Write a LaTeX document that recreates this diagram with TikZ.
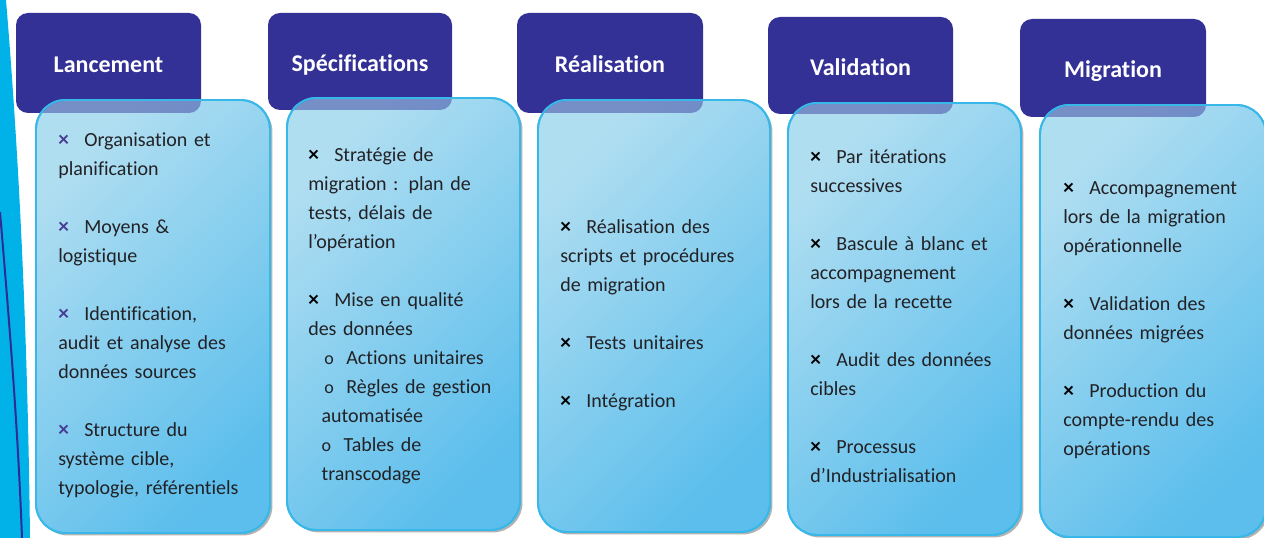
\documentclass[tikz,border=0pt]{standalone}
\usepackage{fontspec}
\setmainfont{Carlito}[Ligatures=NoCommon]
\usetikzlibrary{shadows}
\definecolor{navy}{RGB}{51,48,150}
\definecolor{bodyA}{RGB}{176,222,241}
\definecolor{bodyB}{RGB}{92,190,236}
\definecolor{bordc}{RGB}{56,184,232}
\definecolor{txtc}{RGB}{34,34,38}
\definecolor{bandc}{RGB}{0,178,232}
\definecolor{linec}{RGB}{48,44,150}
\definecolor{bulnavy}{RGB}{72,60,150}
\newcommand\bxa{\makebox[19.5pt][l]{\textcolor{bulnavy}{\raisebox{0pt}{\bfseries\fontsize{16}{12}\selectfont ×}}}}
\newcommand\bxb{\makebox[19.5pt][l]{\textcolor{black}{\raisebox{0pt}{\bfseries\fontsize{16}{12}\selectfont ×}}}}
\newcommand\subo{\makebox[16.5pt][l]{{\fontsize{13.5}{13}\selectfont o}}}
\begin{document}
\begin{tikzpicture}[x=0.75pt,y=-0.75pt,
  hdr/.style={fill=navy, rounded corners=9pt, text=white,
    font=\bfseries\fontsize{18}{20}\selectfont, inner sep=0pt, outer sep=0pt,
    text height=15pt, text depth=0pt},
  bdy/.style={draw=bordc, line width=1.4pt, rounded corners=22pt,
    top color=bodyA, bottom color=bodyB, shading angle=45,
    inner sep=0pt, outer sep=0pt,
    drop shadow={shadow xshift=1.8pt, shadow yshift=-1.8pt, fill=black, opacity=0.3}},
  txtb/.style={anchor=base west, inner sep=0pt, text width=175pt, align=left,
    text=txtc, font=\fontsize{15}{21.75}\selectfont}
]
\useasboundingbox (0,0) rectangle (1264,538);
% left band
\fill[bandc] (0,0) -- (6,0) .. controls (21,180) and (28,360) .. (30,538) -- (0,538) -- cycle;
\draw[linec, line width=1.5pt] (0,212) .. controls (10,330) and (18,430) .. (22,538);

% headers
\node[hdr, minimum width={185*0.75pt}, minimum height={100*0.75pt}] (h1) at (108.5,63) {Lancement};
\node[hdr, minimum width={184*0.75pt}, minimum height={97*0.75pt}] (h2) at (360,61.5) {Spécifications};
\node[hdr, minimum width={186*0.75pt}, minimum height={100*0.75pt}] (h3) at (610,63) {Réalisation};
\node[hdr, minimum width={185*0.75pt}, minimum height={97*0.75pt}] (h4) at (860.5,65.5) {Validation};
\node[hdr, minimum width={186*0.75pt}, minimum height={98*0.75pt}] (h5) at (1113,68) {Migration};

% bodies
\node[bdy, minimum width={234*0.75pt}, minimum height={433*0.75pt}] (b1) at (153,316.5) {};
\node[bdy, minimum width={233*0.75pt}, minimum height={432*0.75pt}] (b2) at (403.5,314) {};
\node[bdy, minimum width={232*0.75pt}, minimum height={432*0.75pt}] (b3) at (654,316) {};
\node[bdy, minimum width={233*0.75pt}, minimum height={432*0.75pt}] (b4) at (904.5,319) {};
\node[bdy, minimum width={226*0.75pt}, minimum height={432*0.75pt}] (b5) at (1153,321) {};

% header seen through the top of each body
\foreach \i in {1,...,5}{
  \begin{scope}
    \clip[rounded corners=22pt] (b\i.north west) rectangle (b\i.south east);
    \fill[navy, opacity=0.45, rounded corners=9pt] (h\i.north west) rectangle (h\i.south east);
  \end{scope}
  \draw[bordc, line width=1.4pt, rounded corners=22pt] (b\i.north west) rectangle (b\i.south east);
}

% texts
\node[txtb] (t1) at (58,147) {\bxa Organisation et\\ planification\\[21.75pt]
\bxa Moyens \&\\ logistique\\[21.75pt]
\bxa Identification,\\ audit et analyse des\\ données sources\\[21.75pt]
\bxa Structure du\\ système cible,\\ typologie, référentiels};

\node[txtb] (t2) at (308,162) {\bxb Stratégie de\\ migration : plan de\\ tests, délais de\\ l’opération\\[21.75pt]
\bxb Mise en qualité\\ des données\\
\hspace*{12pt}\subo Actions unitaires\\
\hspace*{12pt}\subo Règles de gestion\\
\hspace*{10pt}automatisée\\
\hspace*{10pt}\subo Tables de\\
\hspace*{10pt}transcodage};

\node[txtb] (t3) at (560,234) {\bxb Réalisation des\\ scripts et procédures\\ de migration\\[21.75pt]
\bxb Tests unitaires\\[21.75pt]
\bxb Intégration};

\node[txtb] (t4) at (810,164) {\bxb Par itérations\\ successives\\[21.75pt]
\bxb Bascule à blanc et\\ accompagnement\\ lors de la recette\\[21.75pt]
\bxb Audit des données\\ cibles\\[21.75pt]
\bxb Processus\\ d’Industrialisation};

\node[txtb] (t5) at (1063,195) {\bxb Accompagnement\\ lors de la migration\\ opérationnelle\\[21.75pt]
\bxb Validation des\\ données migrées\\[21.75pt]
\bxb Production du\\ compte-rendu des\\ opérations};
\end{tikzpicture}
\end{document}
